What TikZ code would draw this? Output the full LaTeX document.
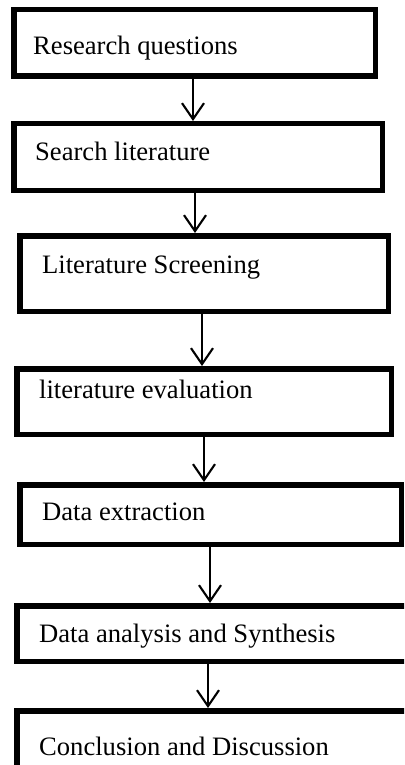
\documentclass[tikz,border=0pt]{standalone}
\usepackage{fontspec}
\setmainfont{Liberation Serif}
\usetikzlibrary{arrows.meta}

\tikzset{
  box/.style={draw=black, line width=5.5pt, fill=white, inner sep=0pt,
              anchor=north west},
  label text/.style={anchor=base west, inner sep=0pt,
              font=\fontsize{26.6}{30}\selectfont},
  flow/.style={draw=black, line width=2.1pt,
              -{Straight Barb[length=16pt,width=22pt,line width=2.1pt]}}
}

\begin{document}
\begin{tikzpicture}[x=1pt, y=-1pt]
  \useasboundingbox (0,0) rectangle (404,765);
  \clip (0,0) rectangle (404,765);
  \fill[white] (0,0) rectangle (404,765);

  % process boxes
  \node[box, minimum width=361.5pt, minimum height=66.5pt] (b1) at (11,7) {};
  \node[box, minimum width=368.5pt, minimum height=66.5pt] (b2) at (11,121) {};
  \node[box, minimum width=368.5pt, minimum height=75.5pt] (b3) at (17,233) {};
  \node[box, minimum width=374.5pt, minimum height=65.5pt] (b4) at (14,366) {};
  \node[box, minimum width=381.5pt, minimum height=59.5pt] (b5) at (17,482) {};
  \node[box, minimum width=392.5pt, minimum height=55.5pt] (b6) at (14,603) {};
  \node[box, minimum width=392.5pt, minimum height=76.5pt] (b7) at (14,708) {};

  % box captions
  \node[label text] (t1) at (33,55)  {Research questions};
  \node[label text] (t2) at (35,160) {Search literature};
  \node[label text] (t3) at (42,273) {Literature Screening};
  \node[label text] (t4) at (39,398) {literature evaluation};
  \node[label text] (t5) at (42,520) {Data extraction};
  \node[label text] (t6) at (39,642) {Data analysis and Synthesis};
  \node[label text] (t7) at (39,755) {Conclusion and Discussion};

  % horizontal positions of the connectors
  \coordinate (x1) at (193,0);
  \coordinate (x2) at (195,0);
  \coordinate (x3) at (202,0);
  \coordinate (x4) at (204,0);
  \coordinate (x5) at (210,0);
  \coordinate (x6) at (208,0);

  % connectors
  \draw[flow] (b1.south -| x1) -- (b2.north -| x1);
  \draw[flow] (b2.south -| x2) -- (b3.north -| x2);
  \draw[flow] (b3.south -| x3) -- (b4.north -| x3);
  \draw[flow] (b4.south -| x4) -- (b5.north -| x4);
  \draw[flow] (b5.south -| x5) -- (b6.north -| x5);
  \draw[flow] (b6.south -| x6) -- (b7.north -| x6);
\end{tikzpicture}
\end{document}
